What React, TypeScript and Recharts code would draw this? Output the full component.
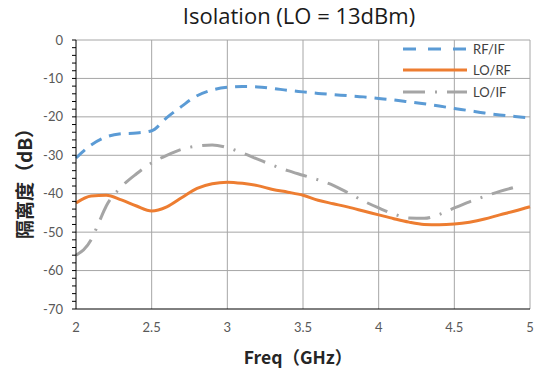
import { LineChart, Line, XAxis, YAxis, CartesianGrid } from 'recharts';

const rfIfFreq = [2.0, 2.1, 2.2, 2.3, 2.4, 2.5, 2.6, 2.7, 2.8, 2.9, 3.0, 3.1, 3.2, 3.3, 3.4, 3.5, 3.6, 3.7, 3.8, 3.9, 4.0, 4.1, 4.2, 4.3, 4.4, 4.5, 4.6, 4.7, 4.8, 4.9, 5.0];
const rfIf = [-30.7, -27.3, -25.2, -24.4, -24.2, -23.6, -20.2, -17.2, -14.5, -13.0, -12.3, -12.1, -12.2, -12.6, -13.1, -13.5, -13.9, -14.2, -14.5, -14.8, -15.2, -15.6, -16.1, -16.6, -17.2, -17.8, -18.4, -19.0, -19.5, -19.9, -20.3];

const loRfFreq = [2.0, 2.1, 2.2, 2.3, 2.4, 2.5, 2.6, 2.7, 2.8, 2.9, 3.0, 3.1, 3.2, 3.3, 3.4, 3.5, 3.6, 3.7, 3.8, 3.9, 4.0, 4.1, 4.2, 4.3, 4.4, 4.5, 4.6, 4.7, 4.8, 4.9, 5.0];
const loRf = [-42.4, -40.6, -40.4, -41.6, -43.2, -44.5, -43.4, -41.0, -38.6, -37.4, -37.0, -37.3, -37.9, -38.9, -39.6, -40.4, -41.7, -42.6, -43.5, -44.5, -45.5, -46.5, -47.4, -48.0, -48.1, -47.9, -47.4, -46.6, -45.5, -44.5, -43.4];

const loIfFreq = [2.0, 2.1, 2.15, 2.2, 2.3, 2.4, 2.5, 2.6, 2.7, 2.8, 2.9, 3.0, 3.1, 3.2, 3.3, 3.4, 3.5, 3.6, 3.7, 3.8, 3.9, 4.0, 4.1, 4.2, 4.3, 4.4, 4.5, 4.6, 4.7, 4.8, 4.9, 4.95];
const loIf = [-56.0, -52.0, -47.6, -43.2, -38.2, -34.8, -32.0, -30.0, -28.4, -27.6, -27.3, -28.0, -29.4, -31.0, -32.6, -34.0, -35.2, -36.4, -37.8, -39.8, -41.9, -43.7, -45.3, -46.3, -46.4, -45.4, -43.7, -42.1, -40.7, -39.4, -38.3, -37.8];

const xTicks = [2, 2.5, 3, 3.5, 4, 4.5, 5];
const yTicks = Array.from({ length: 36 }, (_, i) => -70 + i * 2);
const yGrid = [0, -10, -20, -30, -40, -50, -60];
const xGrid = [2.5, 3, 3.5, 4, 4.5, 5];

const toRows = (fs: number[], vs: number[]) => fs.map((f, i) => ({ f, v: vs[i] }));

const series = [
  { name: 'RF/IF', data: toRows(rfIfFreq, rfIf), color: '#5B9BD5', dash: '12 8', legendDash: '13 12' },
  { name: 'LO/RF', data: toRows(loRfFreq, loRf), color: '#ED7D31', dash: undefined, legendDash: undefined },
  { name: 'LO/IF', data: toRows(loIfFreq, loIf), color: '#A5A5A5', dash: '22 10 2 10', legendDash: '22 10 2 10' },
];

const font = 'Lato, "Open Sans", sans-serif';
const cjk = '"Noto Sans CJK SC", sans-serif';

function LegendBox() {
  return (
    <div style={{ position: 'absolute', left: 401, top: 38, fontFamily: font, fontSize: 13, color: '#404040' }}>
      {series.map((s) => (
        <div key={s.name} style={{ display: 'flex', alignItems: 'center', height: 21.5 }}>
          <svg width={68} height={8}>
            <line x1={2} y1={4} x2={66} y2={4} stroke={s.color} strokeWidth={3} strokeDasharray={s.legendDash} />
          </svg>
          <span style={{ marginLeft: 4 }}>{s.name}</span>
        </div>
      ))}
    </div>
  );
}

function YLabel() {
  const cy = 179;
  return (
    <text
      x={23}
      y={cy}
      transform={`rotate(-90, 23, ${cy})`}
      textAnchor="middle"
      dominantBaseline="central"
      fontFamily={cjk}
      fontWeight="bold"
      fontSize={19}
      fill="#262626"
    >
      隔离度（dB）
    </text>
  );
}

function XLabel() {
  return (
    <text
      x={298}
      y={356}
      textAnchor="middle"
      dominantBaseline="central"
      fontFamily={cjk}
      fontWeight="bold"
      fontSize={17.5}
      fill="#262626"
    >
      Freq（GHz）
    </text>
  );
}

export default function App() {
  return (
    <div style={{ position: 'absolute', left: 0, top: 0, width: 541, height: 378, background: '#fff' }}>
      <div
        style={{
          position: 'absolute',
          top: 0,
          left: 0,
          width: 598,
          textAlign: 'center',
          fontFamily: '"Open Sans", sans-serif',
          fontSize: 22,
          color: '#1a1a1a',
        }}
      >
        Isolation (LO = 13dBm)
      </div>
      <LineChart width={541} height={378} margin={{ top: 40, right: 11, bottom: 0, left: 0 }}>
        <CartesianGrid
          horizontal
          vertical
          horizontalValues={yGrid}
          verticalValues={xGrid}
          stroke="#A6A6A6"
          strokeWidth={1}
        />
        <XAxis
          type="number"
          dataKey="f"
          domain={[2, 5]}
          ticks={xTicks}
          height={69}
          tickLine={false}
          tickMargin={8}
          axisLine={{ stroke: '#000' }}
          tick={{ fill: '#595959', fontSize: 13, fontFamily: font }}
          label={<XLabel />}
          allowDuplicatedCategory={false}
        />
        <YAxis
          type="number"
          dataKey="v"
          domain={[-70, 0]}
          ticks={yTicks}
          interval={0}
          width={76}
          tickSize={4}
          tickMargin={9}
          tickFormatter={(v: number) => (v % 10 === 0 ? String(v) : '')}
          axisLine={{ stroke: '#000' }}
          tickLine={{ stroke: '#000' }}
          tick={{ fill: '#595959', fontSize: 13, fontFamily: font }}
          label={<YLabel />}
        />
        {series.map((s) => (
          <Line
            key={s.name}
            name={s.name}
            data={s.data}
            dataKey="v"
            type="monotone"
            stroke={s.color}
            strokeWidth={3}
            strokeDasharray={s.dash}
            dot={false}
            activeDot={false}
            isAnimationActive={false}
          />
        ))}
      </LineChart>
      <LegendBox />
    </div>
  );
}
